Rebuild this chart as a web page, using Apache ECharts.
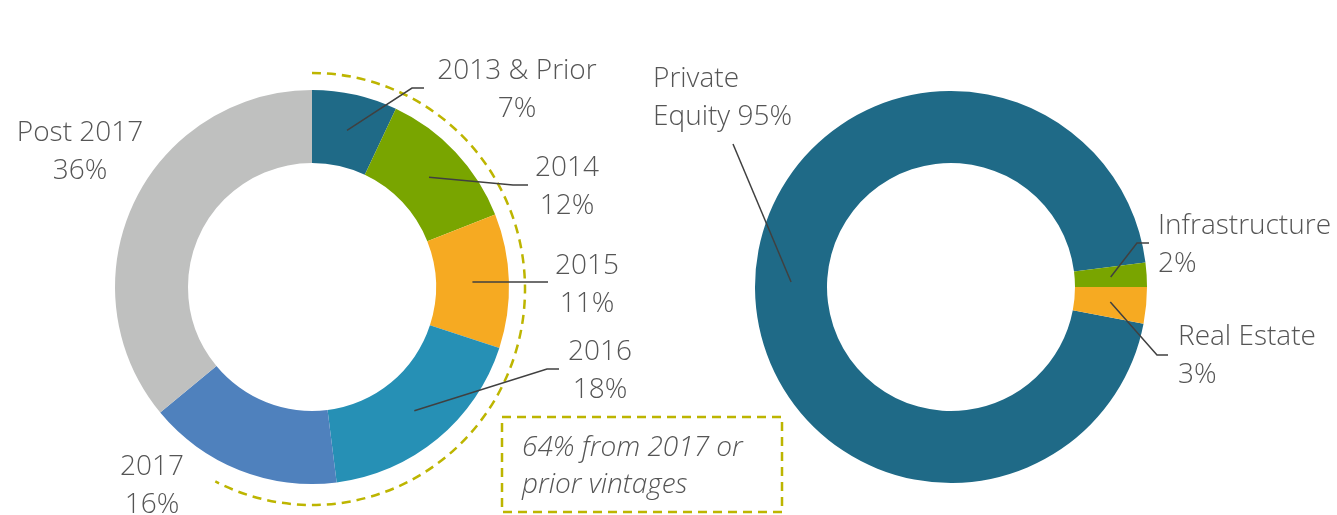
<!DOCTYPE html>
<html><head><meta charset="utf-8">
<script src="https://cdn.jsdelivr.net/npm/echarts@6/dist/echarts.min.js"></script>
<style>html,body{margin:0;padding:0;background:#fff}#c{width:1337px;height:515px}</style>
</head><body><div id="c"></div>
<script>
// ---- data ----
const vintageNames = ['2013 & Prior', '2014', '2015', '2016', '2017', 'Post 2017'];
const vintageValues = [7, 12, 11, 18, 16, 36];
const strategyNames = ['Private Equity', 'Infrastructure', 'Real Estate'];
const strategyValues = [95, 2, 3];
const calloutLines = ['64% from 2017 or', 'prior vintages'];

// ---- styles / layout ----
const vintageColors = ['#1F6A87', '#79A500', '#F6AA22', '#2690B5', '#4F81BD', '#BFC0BF'];
const strategyColors = ['#1F6A87', '#79A500', '#F6AA22'];
const FONT = '"Open Sans", Lato, sans-serif';
const TEXT = '#555555';
const LINE = '#404040';
const ACCENT = '#BDB500';

const L = {cx: 312, cy: 287, r0: 124, r1: 197};
const R = {cx: 951, cy: 287, r0: 124, r1: 196};
const sum = a => a.reduce((s, v) => s + v, 0);
const strategyStart = -strategyValues[2] / sum(strategyValues) * 360;

const vintageLabelPos = [
  {x: 517, y: 90, align: 'center', pts: [[412, 88], [424, 88]]},
  {x: 567, y: 187, align: 'center', pts: [[513, 185], [528, 185]]},
  {x: 587, y: 285, align: 'center', pts: [[536, 282], [548, 282]]},
  {x: 600, y: 371, align: 'center', pts: [[547, 369], [559, 369]]},
  {x: 152, y: 486, align: 'center', pts: null},
  {x: 80, y: 152, align: 'center', pts: null}
];
const strategyLabelPos = [
  {x: 653, y: 98, align: 'left', pts: [[733, 144]]},
  {x: 1158, y: 245, align: 'left', pts: [[1137, 243], [1149, 243]]},
  {x: 1178, y: 356, align: 'left', pts: [[1157, 355], [1168, 355]]}
];

function midPoint(values, i, startDeg, g) {
  const total = sum(values);
  let cum = 0;
  for (let k = 0; k < i; k++) cum += values[k];
  const a = (startDeg - (cum + values[i] / 2) / total * 360) * Math.PI / 180;
  const rm = (g.r0 + g.r1) / 2;
  return [g.cx + rm * Math.cos(a), g.cy - rm * Math.sin(a)];
}

function makeLayout(pos) {
  return function (p) {
    const c = pos[p.dataIndex];
    return {x: c.x, y: c.y, align: c.align, verticalAlign: 'middle'};
  };
}

function leaderLines(values, startDeg, g, pos) {
  const out = [];
  values.forEach((v, i) => {
    if (!pos[i].pts) return;
    out.push({
      type: 'polyline', z: 100, silent: true,
      shape: {points: [midPoint(values, i, startDeg, g)].concat(pos[i].pts)},
      style: {stroke: LINE, lineWidth: 1.5, fill: null}
    });
  });
  return out;
}

const labelStyle = {
  show: true, position: 'outside', color: TEXT, fontFamily: FONT,
  fontSize: 28, fontWeight: 300, lineHeight: 38
};

const chart = echarts.init(document.getElementById('c'), null, {renderer: 'canvas'});
chart.setOption({
  backgroundColor: '#ffffff',
  animation: false,
  series: [
    {
      type: 'pie',
      center: [L.cx, L.cy],
      radius: [L.r0, L.r1],
      startAngle: 90,
      clockwise: true,
      avoidLabelOverlap: false,
      itemStyle: {borderWidth: 0},
      label: Object.assign({}, labelStyle, {formatter: p => p.name + '\n' + p.value + '%'}),
      labelLine: {show: false},
      labelLayout: makeLayout(vintageLabelPos),
      emphasis: {disabled: true},
      data: vintageNames.map((n, i) => ({
        name: n, value: vintageValues[i],
        itemStyle: {color: vintageColors[i]}
      }))
    },
    {
      type: 'pie',
      center: [R.cx, R.cy],
      radius: [R.r0, R.r1],
      startAngle: strategyStart,
      clockwise: true,
      avoidLabelOverlap: false,
      itemStyle: {borderWidth: 0},
      label: Object.assign({}, labelStyle, {
        formatter: p => p.dataIndex === 0
          ? p.name.replace(' ', '\n') + ' ' + p.value + '%'
          : p.name + '\n' + p.value + '%'
      }),
      labelLine: {show: false},
      labelLayout: makeLayout(strategyLabelPos),
      emphasis: {disabled: true},
      data: strategyNames.map((n, i) => ({
        name: n, value: strategyValues[i],
        itemStyle: {color: strategyColors[i]}
      }))
    }
  ],
  graphic: [
    {
      type: 'arc',
      shape: {cx: 312, cy: 289, r: 213, startAngle: -Math.PI / 2, endAngle: 117 * Math.PI / 180, clockwise: true},
      scaleY: 216 / 213,
      originX: 312, originY: 289,
      style: {stroke: ACCENT, lineWidth: 2.5, lineDash: [9, 6], fill: null},
      silent: true
    },
    {
      type: 'rect',
      shape: {x: 502, y: 417, width: 280, height: 95},
      style: {stroke: ACCENT, lineWidth: 2.5, lineDash: [9, 6], fill: null},
      silent: true
    },
    {
      type: 'text', x: 522, y: 448,
      style: {text: calloutLines[0], fill: TEXT, font: 'italic 300 28px ' + FONT, verticalAlign: 'middle', align: 'left'},
      silent: true
    },
    {
      type: 'text', x: 522, y: 485,
      style: {text: calloutLines[1], fill: TEXT, font: 'italic 300 28px ' + FONT, verticalAlign: 'middle', align: 'left'},
      silent: true
    }
  ].concat(leaderLines(vintageValues, 90, L, vintageLabelPos))
   .concat(leaderLines(strategyValues, strategyStart, R, strategyLabelPos))
});
</script></body></html>
